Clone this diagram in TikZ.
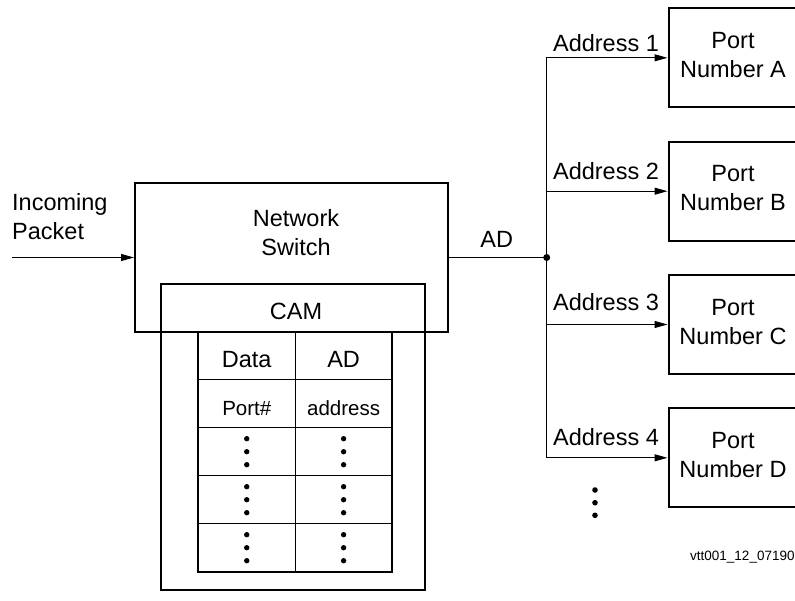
\documentclass[tikz,border=0pt]{standalone}
\usepackage{fontspec}
\setmainfont{Liberation Sans}
\usetikzlibrary{arrows.meta}
\newcommand\bigfs{\fontsize{23.5}{29}\selectfont}
\newcommand\midfs{\fontsize{20.5}{25}\selectfont}
\newcommand\smallfs{\fontsize{13.5}{16}\selectfont}
\tikzset{
  box/.style={draw, line width=2pt, inner sep=0pt},
  cell/.style={draw, line width=1.3pt, inner sep=0pt, minimum height=48pt, text height=24pt, text depth=0pt},
  lbl/.style={inner sep=0pt, font=\bigfs},
  conn/.style={line width=1pt},
  arr/.style={conn, -{Triangle[length=13pt,width=7pt]}},
  portbox/.style={box, minimum width=129pt, minimum height=99pt, align=center, font=\bigfs, text depth=6pt},
}
\begin{document}
\begin{tikzpicture}[x=1pt,y=-1pt]
\clip (0,0) rectangle (795,600);
% table cells
\foreach \r/\y in {1/355.7,2/403.7,3/451.7,4/499.7,5/547.7}{
  \node[cell, minimum width=97.5pt] (c\r1) at (246.75,\y) {};
  \node[cell, minimum width=96.2pt] (c\r2) at (343.6,\y) {};
}
\node[cell, minimum width=97.5pt, draw=none, font=\bigfs] (d11) at (246.75,355.7) {Data};
\node[cell, minimum width=96.2pt, draw=none, font=\bigfs] (d12) at (343.6,355.7) {AD};
\node[cell, minimum width=97.5pt, draw=none, font=\midfs] (d21) at (246.75,403.7) {Port\#};
\node[cell, minimum width=96.2pt, draw=none, font=\midfs] (d22) at (343.6,403.7) {address};
\foreach \r in {3,4,5}{
  \foreach \c in {1,2}{
    \foreach \dy in {-13,0,13}{
      \fill ([yshift=-\dy pt]c\r\c.center) circle (2.7pt);
    }
  }
}
\node[box, minimum width=193.7pt, minimum height=240pt] (tbl) at (294.85,451.7) {};
% switch and CAM
\node[box, minimum width=313pt, minimum height=149pt] (switch) at (291.5,257.5) {};
\node[box, minimum width=264.3pt, minimum height=306pt] (cam) at (292.85,437) {};
\node[lbl, align=center] (swlbl) at (296,233) {Network\\Switch};
\node[lbl] (camlbl) at (296,311.6) {CAM};
% incoming
\node[lbl, anchor=west, align=left] (inc) at (12,217) {Incoming\\Packet};
\coordinate (incstart) at (12,257.5);
\draw[arr] (incstart) -- (switch.west);
% AD bus
\coordinate (bus) at (546.7,257.5);
\draw[conn] (switch.east) -- (bus);
\fill (bus) circle (3.5pt);
\node[lbl, anchor=base] (adlbl) at (496.7,247.3) {AD};
% ports
\node[portbox] (pA) at (733,57.8) {Port\\Number A};
\node[portbox] (pB) at (733,191.2) {Port\\Number B};
\node[portbox] (pC) at (733,324.5) {Port\\Number C};
\node[portbox] (pD) at (733,457.8) {Port\\Number D};
\draw[arr] (bus) |- (pA);
\draw[arr] (bus) |- (pB);
\draw[arr] (bus) |- (pC);
\draw[arr] (bus) |- (pD);
\node[lbl, anchor=base] (a1) at (606,51.7) {Address 1};
\node[lbl, anchor=base] (a2) at (606,179) {Address 2};
\node[lbl, anchor=base] (a3) at (606,310.7) {Address 3};
\node[lbl, anchor=base] (a4) at (606,445) {Address 4};
\foreach \y in {490,502.7,515.3}{ \fill (595,\y) circle (2.8pt); }
\node[inner sep=0pt, anchor=base west, font=\smallfs] (foot) at (690,560.3) {vtt001\_12\_071900};
\end{tikzpicture}
\end{document}
